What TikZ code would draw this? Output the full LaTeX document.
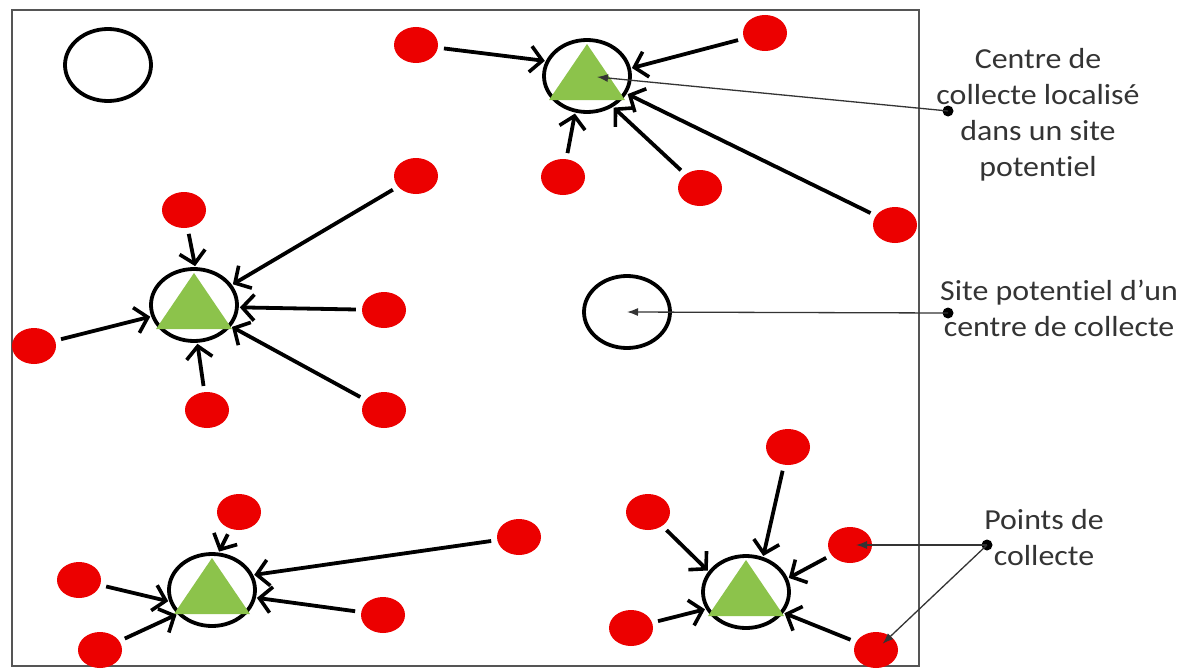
\documentclass[tikz,border=0pt]{standalone}
\usepackage{fontspec}
\newfontfamily\labfont[FakeStretch=1.1,Ligatures=NoCommon]{Carlito}
\usetikzlibrary{arrows.meta,shapes.geometric}
\definecolor{dotred}{RGB}{236,0,0}
\definecolor{trigreen}{RGB}{140,195,75}
\definecolor{labgray}{RGB}{52,52,52}
\definecolor{framegray}{RGB}{85,85,85}
\begin{document}
\begin{tikzpicture}[x=1pt,y=-1pt,
  site/.style={draw=black,fill=white,line width=3.8pt,ellipse,minimum width=86pt,minimum height=72pt,inner sep=0pt},
  pnt/.style={fill=dotred,ellipse,minimum width=44pt,minimum height=36pt,inner sep=0pt},
  flow/.style={line width=3.8pt,shorten <=6pt,shorten >=1pt,-{Straight Barb[length=12pt,width=26pt,line width=3.6pt]}},
  ldot/.style={circle,fill=black,minimum size=11pt,inner sep=0pt},
  lead/.style={draw=labgray,line width=1.3pt,-{Latex[length=11pt,width=8pt]}},
  lab/.style={font=\labfont\fontsize{29}{36}\selectfont,text=labgray,align=center,inner sep=0pt},
  framebox/.style={draw=framegray,line width=1.5pt}]
\useasboundingbox (0,0) rectangle (1191,669);
\fill[white] (0,0) rectangle (1191,669);
\draw[framebox] (12,10) rectangle (919,666);

% potential sites
\node[site] (e1) at (108,65) {};
\node[site] (e2) at (627,312) {};
\node[site] (h1) at (587,76) {};
\node[site] (h2) at (194,305) {};
\node[site] (h3) at (212,590) {};
\node[site] (h4) at (746,592) {};
\foreach \h in {h1,h2,h3,h4}{
  \fill[trigreen] ([shift={(0,-32)}]\h.center) -- ([shift={(-38,24)}]\h.center) -- ([shift={(38,24)}]\h.center) -- cycle;
}

% collection points
\node[pnt] (a1) at (416,45) {};
\node[pnt] (a2) at (765,33) {};
\node[pnt] (a3) at (563,177) {};
\node[pnt] (a4) at (700,188) {};
\node[pnt] (a5) at (895,225) {};
\node[pnt] (b1) at (184,210) {};
\node[pnt] (b2) at (416,176) {};
\node[pnt] (b3) at (384,310) {};
\node[pnt] (b4) at (384,410) {};
\node[pnt] (b5) at (207,410) {};
\node[pnt] (b6) at (34,346) {};
\node[pnt] (c1) at (239,512) {};
\node[pnt] (c2) at (519,537) {};
\node[pnt] (c3) at (383,615) {};
\node[pnt] (c4) at (79,580) {};
\node[pnt] (c5) at (100,650) {};
\node[pnt] (d1) at (788,447) {};
\node[pnt] (d2) at (648,512) {};
\node[pnt] (d3) at (631,628) {};
\node[pnt] (d4) at (850,545) {};
\node[pnt] (d5) at (876,650) {};

% flows
\draw[flow] (a1) -- (h1.160);
\draw[flow] (a2) -- (h1.10);
\draw[flow] (a3) -- (h1.252);
\draw[flow] (a4) -- (h1.-50);
\draw[flow] (a5) -- (h1.-24);
\draw[flow] (b1) -- (h2.88);
\draw[flow] (b2) -- (h2.28);
\draw[flow] (b3) -- (h2.-3);
\draw[flow] (b4) -- (h2.-30);
\draw[flow] (b5) -- (h2.-85);
\draw[flow] (b6) -- (h2.195);
\draw[flow] (c1) -- (h3.80);
\draw[flow] (c2) -- (h3.20);
\draw[flow] (c3) -- (h3.-10);
\draw[flow] (c4) -- (h3.195);
\draw[flow] (c5) -- (h3.215);
\draw[flow] (d1) -- (h4.64);
\draw[flow] (d2) -- (h4.151);
\draw[flow] (d3) -- (h4.203);
\draw[flow] (d4) -- (h4.18);
\draw[flow] (d5) -- (h4.-29);

% legend
\node[ldot] (l1) at (948,111) {};
\node[ldot] (l2) at (948,313) {};
\node[ldot] (l3) at (987,545) {};
\draw[lead,shorten >=10pt] (l1.center) -- (h1.center);
\draw[lead] (l2.center) -- (e2.center);
\draw[lead,shorten >=6pt] (l3.center) -- (d4.center);
\draw[lead,shorten >=9pt] (l3.center) -- (d5.center);

\node[lab] (t1) at (1038,115) {Centre de\\collecte localisé\\dans un site\\potentiel};
\node[lab] (t2) at (1059,308) {Site potentiel d’un\\centre de collecte};
\node[lab] (t3) at (1044,538) {Points de\\collecte};
\end{tikzpicture}
\end{document}
